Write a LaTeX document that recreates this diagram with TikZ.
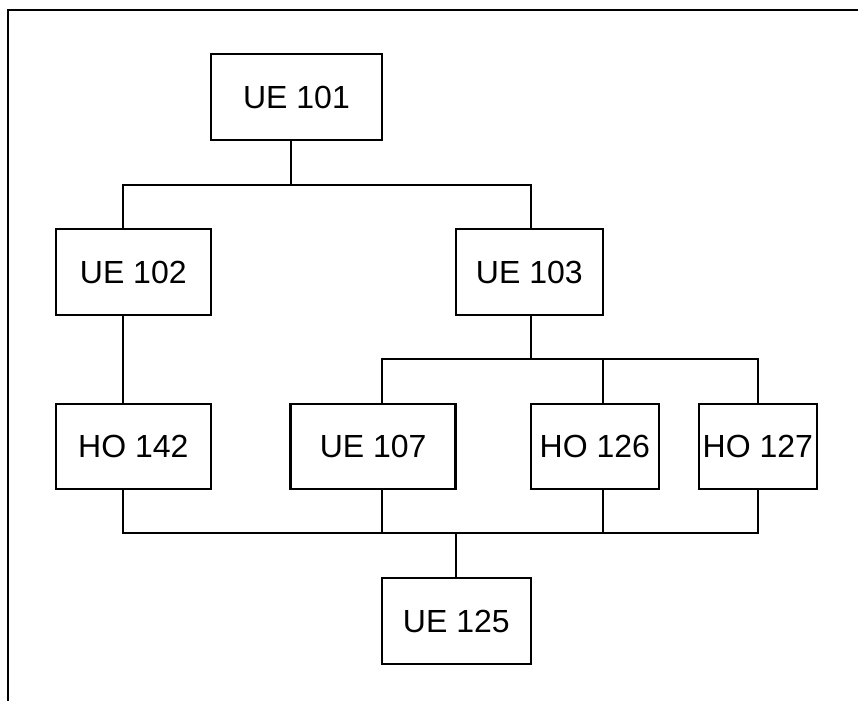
\documentclass[tikz,border=0pt]{standalone}
\usepackage{fontspec}
\setmainfont{Liberation Sans}
\usetikzlibrary{calc}

\tikzset{
	unit/.style={draw, line width=2.6pt, inner sep=0pt, outer sep=0pt, minimum height=86, font=\fontsize{32}{36}\selectfont},
	link/.style={line width=2.6pt},
}

\begin{document}
\begin{tikzpicture}[x=1pt, y=-1pt]

				\useasboundingbox (0,0) rectangle (858,701);
				\draw [line width=2.8pt] (8,701) -- (8,10) -- (858,10);

				% first row
				\node [unit, minimum width=171] (ue101) at (296.5, 97) {UE 101};

				% second row
				\node [unit, minimum width=155] (ue102) at (133.3, 272) {UE 102};
				\node [unit, minimum width=147] (ue103) at (529.3, 272) {UE 103};

				% third row
				\node [unit, minimum width=155, minimum height=85] (ho142) at (133.3, 446.5) {HO 142};
				\node [unit, minimum width=165, minimum height=85] (ue107) at (373.2, 446.5) {UE 107};
				\node [unit, minimum width=128, minimum height=85] (ho126) at (594.8, 446.5) {HO 126};
				\node [unit, minimum width=118, minimum height=85] (ho127) at (757.8, 446.5) {HO 127};

				% last row
				\node [unit, minimum width=149] (ue125) at (456.3, 621) {UE 125};

				% bus junctions
				\coordinate (a) at (123, 185);
				\coordinate (b) at (291, 185);
				\coordinate (c) at (531, 185);

				\coordinate (d) at (382, 359);
				\coordinate (e) at (531, 359);
				\coordinate (f) at (603, 359);
				\coordinate (g) at (758, 359);

				\coordinate (h) at (123, 533);
				\coordinate (i) at (382, 533);
				\coordinate (k) at (456, 533);
				\coordinate (l) at (603, 533);
				\coordinate (m) at (758, 533);

				\draw [link] (ue101.south -| b) -- (b);
				\draw [link] (ue102.north -| a) -- (a) -- (c) -- (ue103.north -| c);
				\draw [link] (ue102.south -| a) -- (ho142.north -| a);

				\draw [link] (ue103.south -| e) -- (e);
				\draw [link] (ue107.north -| d) -- (d) -- (g) -- (ho127.north -| g);
				\draw [link] (f) -- (ho126.north -| f);

				\draw [link] (ho142.south -| h) -- (h) -- (m) -- (ho127.south -| m);
				\draw [link] (ue107.south -| i) -- (i);
				\draw [link] (ho126.south -| l) -- (l);
				\draw [link] (k) -- (ue125.north -| k);

		\end{tikzpicture}
\end{document}
